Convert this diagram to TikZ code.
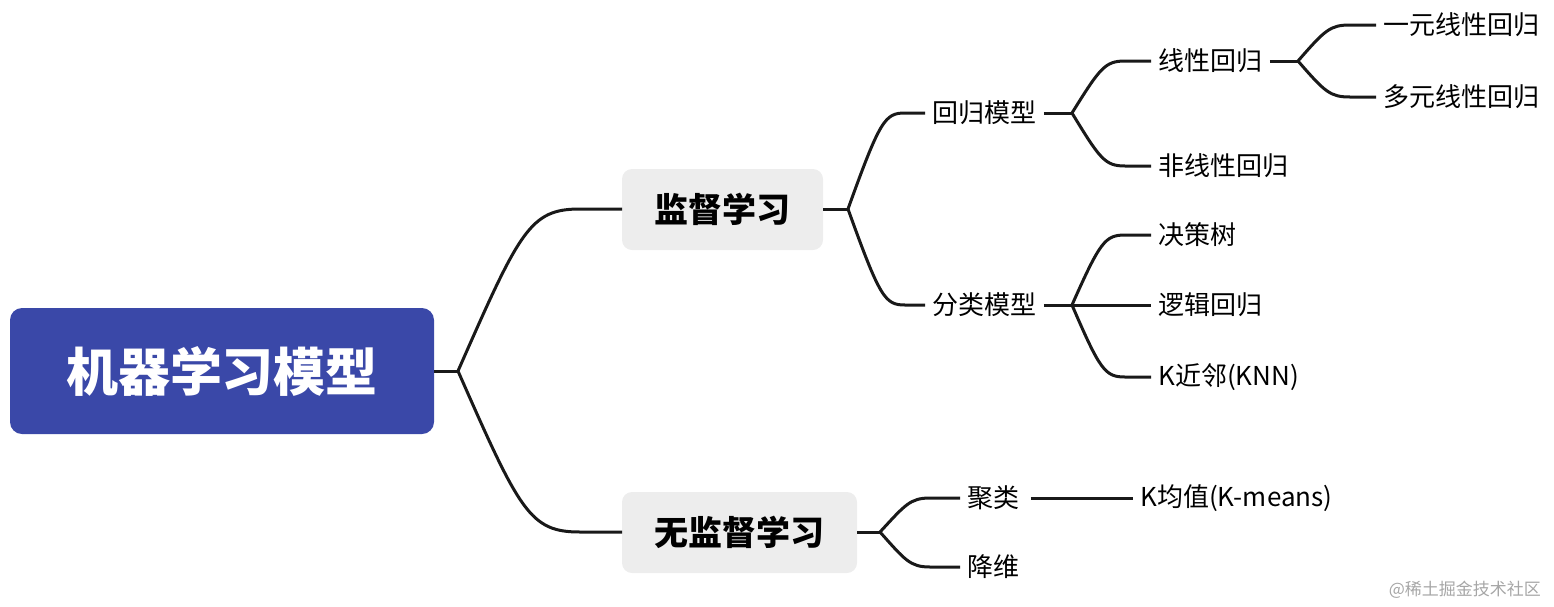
\documentclass[tikz,border=0pt]{standalone}
\usepackage{fontspec}
\setmainfont{Noto Sans CJK SC}
\begin{document}
\begin{tikzpicture}[x=0.5pt,y=-0.5pt,
  ln/.style={line width=1.5pt,draw=black!90},
  lbl/.style={anchor=west,inner xsep=3.5pt,inner ysep=0pt,font=\fontsize{13}{15}\selectfont}]
\useasboundingbox (0,0) rectangle (1554,606);
\fill[fill={rgb,255:red,58;green,72;blue,168},rounded corners=6pt] (10,308) rectangle (434,434);
\node[text=white,font=\fontsize{26}{30}\selectfont\bfseries] (root) at (222,371) {机器学习模型};
\coordinate (rootR) at (434,371);
\fill[black!7,rounded corners=5pt] (622,169) rectangle (823,250);
\node[font=\fontsize{17}{20}\selectfont\bfseries] (sup1) at (722,209) {监督学习};
\fill[black!7,rounded corners=5pt] (622,492) rectangle (857,573);
\node[font=\fontsize{17}{20}\selectfont\bfseries] (uns) at (739,532) {无监督学习};
\coordinate (supL) at (622,209); \coordinate (supR) at (823,209);
\coordinate (unsL) at (622,532); \coordinate (unsR) at (857,532);
\coordinate (b0) at (458,371);
\draw[ln] (rootR) -- (b0);
\draw[ln] (b0) .. controls (520,230) and (530,209) .. (580,209) -- (supL);
\draw[ln] (b0) .. controls (520,512) and (530,532) .. (580,532) -- (unsL);
% supervised
\node[lbl] (reg) at (925,113) {回归模型};
\node[lbl] (cls) at (925,305) {分类模型};
\coordinate (b1) at (848,209);
\draw[ln] (supR) -- (b1);
\draw[ln] (b1) .. controls (880,120) and (885,113) .. (905,113) -- (reg.west);
\draw[ln] (b1) .. controls (880,298) and (885,305) .. (905,305) -- (cls.west);
% regression
\node[lbl] (lin) at (1151,61) {线性回归};
\node[lbl] (nlin) at (1151,166) {非线性回归};
\coordinate (b2) at (1072,113);
\draw[ln] (reg.east) -- (b2);
\draw[ln] (b2) .. controls (1100,68) and (1105,61) .. (1125,61) -- (lin.west);
\draw[ln] (b2) .. controls (1100,159) and (1105,166) .. (1125,166) -- (nlin.west);
\node[lbl] (uni) at (1376,25) {一元线性回归};
\node[lbl] (mul) at (1376,97) {多元线性回归};
\coordinate (b3) at (1298,61);
\draw[ln] (lin.east) -- (b3);
\draw[ln] (b3) .. controls (1325,30) and (1330,25) .. (1350,25) -- (uni.west);
\draw[ln] (b3) .. controls (1325,92) and (1330,97) .. (1350,97) -- (mul.west);
% classification
\node[lbl] (tree) at (1151,235) {决策树};
\node[lbl] (logi) at (1151,305) {逻辑回归};
\node[lbl] (knn) at (1151,377) {K近邻(KNN)};
\coordinate (b4) at (1072,305);
\draw[ln] (cls.east) -- (b4);
\draw[ln] (b4) .. controls (1100,242) and (1105,235) .. (1125,235) -- (tree.west);
\draw[ln] (b4) -- (logi.west);
\draw[ln] (b4) .. controls (1100,370) and (1105,377) .. (1125,377) -- (knn.west);
% unsupervised
\node[lbl] (clu) at (960,498) {聚类};
\node[lbl] (dim) at (960,567) {降维};
\coordinate (b5) at (880,532);
\draw[ln] (unsR) -- (b5);
\draw[ln] (b5) .. controls (905,505) and (910,498) .. (930,498) -- (clu.west);
\draw[ln] (b5) .. controls (905,560) and (910,567) .. (930,567) -- (dim.west);
\node[lbl] (km) at (1133,498) {K均值(K-means)};
\draw[ln] ([xshift=2pt]clu.east) -- (km.west);
\node[anchor=east,text=black!35,font=\fontsize{8.5}{10}\selectfont] (wm) at (1548,590) {@稀土掘金技术社区};
\end{tikzpicture}
\end{document}
